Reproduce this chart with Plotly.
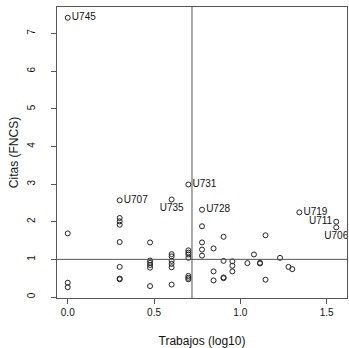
import plotly.graph_objects as go

# ---- data (x = log10 of number of works, y = citations FNCS) ----
x_pts = [0.0, 0.0, 0.0,
         0.301, 0.301, 0.301, 0.301, 0.301, 0.301, 0.301,
         0.477, 0.477, 0.477, 0.477, 0.477, 0.477,
         0.602, 0.602, 0.602, 0.602, 0.602, 0.602,
         0.699, 0.699, 0.699, 0.699, 0.699, 0.699, 0.699,
         0.778, 0.778, 0.778, 0.778,
         0.845, 0.845, 0.845,
         0.903, 0.903, 0.903, 0.903,
         0.954, 0.954, 0.954,
         1.041, 1.079, 1.114, 1.114, 1.146, 1.146,
         1.230, 1.279, 1.301]
y_pts = [1.69, 0.38, 0.26,
         2.10, 2.01, 1.92, 1.46, 0.80, 0.49, 0.47,
         1.45, 0.97, 0.91, 0.85, 0.78, 0.29,
         1.14, 1.08, 0.96, 0.88, 0.79, 0.33,
         1.24, 1.18, 1.13, 1.04, 0.56, 0.51, 0.47,
         1.88, 1.45, 1.26, 1.10,
         1.29, 0.68, 0.44,
         1.60, 0.96, 0.52, 0.50,
         0.95, 0.83, 0.68,
         0.90, 1.13, 0.91, 0.89, 1.64, 0.46,
         1.04, 0.80, 0.74]

# labelled points, label to the right
lab_r_x = [0.0, 0.301, 0.699, 0.778, 1.342]
lab_r_y = [7.42, 2.57, 2.99, 2.32, 2.25]
lab_r_t = ["U745", "U707", "U731", "U728", "U719"]
# label below
lab_b_x = [0.602, 1.556]
lab_b_y = [2.59, 1.85]
lab_b_t = ["U735", "U706"]
# label to the left
lab_l_x = [1.556]
lab_l_y = [2.00]
lab_l_t = ["U711"]

VLINE_X = 0.72
HLINE_Y = 1.0

x_ticks = [0.0, 0.5, 1.0, 1.5]
x_tick_text = ["0.0", "0.5", "1.0", "1.5"]
y_ticks = [0, 1, 2, 3, 4, 5, 6, 7]

# ---- R-style 4% axis extension ----
all_x = x_pts + lab_r_x + lab_b_x + lab_l_x
all_y = y_pts + lab_r_y + lab_b_y + lab_l_y
dx = (max(all_x) - min(all_x)) * 0.04
dy = (max(all_y) - min(all_y)) * 0.04
xr = [min(all_x) - dx, max(all_x) + dx]
yr = [min(all_y) - dy, max(all_y) + dy]

FONT = "Liberation Sans, Arial, Helvetica, sans-serif"
mk = dict(symbol="circle-open", size=5, color="#222", line=dict(width=1, color="#222"))
tf = dict(family=FONT, size=10, color="#111")

fig = go.Figure()
fig.add_trace(go.Scatter(x=x_pts, y=y_pts, mode="markers", marker=mk, hoverinfo="skip"))
fig.add_trace(go.Scatter(x=lab_r_x, y=lab_r_y, mode="markers+text", text=lab_r_t,
                         textposition="middle right", textfont=tf, marker=mk))
fig.add_trace(go.Scatter(x=lab_b_x, y=lab_b_y, mode="markers+text", text=lab_b_t,
                         textposition="bottom center", textfont=tf, marker=mk))
fig.add_trace(go.Scatter(x=lab_l_x, y=lab_l_y, mode="markers+text", text=lab_l_t,
                         textposition="middle left", textfont=tf, marker=mk))

fig.add_vline(x=VLINE_X, line=dict(color="#555", width=1))
fig.add_hline(y=HLINE_Y, line=dict(color="#555", width=1))

fig.update_layout(
    width=349, height=348,
    margin=dict(l=57, r=2, t=7, b=50),
    paper_bgcolor="white", plot_bgcolor="white",
    showlegend=False,
    font=dict(family=FONT, size=10, color="#111"),
    xaxis=dict(range=xr, tickvals=x_ticks, ticktext=x_tick_text, automargin=False,
               ticks="outside", ticklen=5, tickcolor="#555", showgrid=False, zeroline=False,
               showline=True, linecolor="#555", linewidth=1, mirror=True,
               title=dict(text="Trabajos (log10)", standoff=23)),
    yaxis=dict(range=yr, tickvals=y_ticks, tickangle=-90, automargin=False,
               ticks="outside", ticklen=5, tickcolor="#555", showgrid=False, zeroline=False,
               showline=True, linecolor="#555", linewidth=1, mirror=True,
               ticklabelstandoff=12,
               title=dict(text="Citas (FNCS)", standoff=4)),
)

fig.write_html("out.html")
